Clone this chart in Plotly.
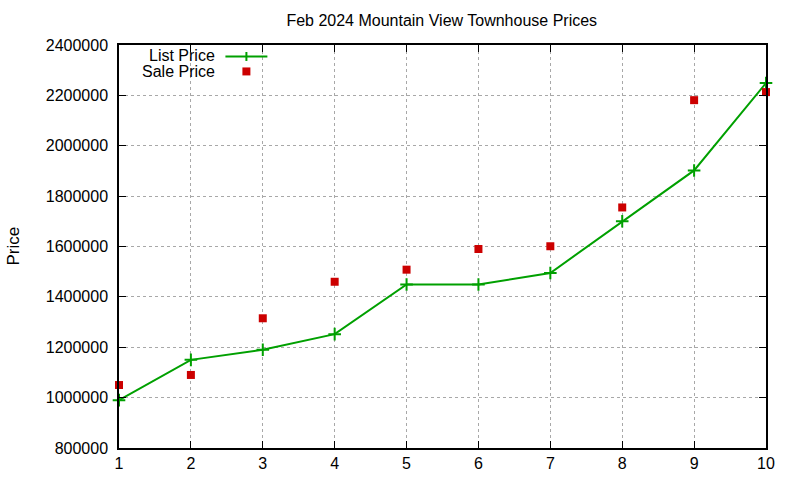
import plotly.graph_objects as go

houses = [1, 2, 3, 4, 5, 6, 7, 8, 9, 10]
list_price = [990000, 1150000, 1190000, 1252000, 1449000, 1449000, 1495000, 1700000, 1902000, 2249000]
sale_price = [1050000, 1090000, 1315000, 1460000, 1508000, 1590000, 1601000, 1755000, 2181000, 2213000]
y_ticks = [800000, 1000000, 1200000, 1400000, 1600000, 1800000, 2000000, 2200000, 2400000]

GREEN = "#00a000"
RED = "#cc0000"
FONT = "Liberation Sans, Arial, sans-serif"

W, H = 800, 480
L, R, T, B = 118.5, 766, 44.5, 448.5

def px(x):
    return (x - L) / (R - L)

def py(y):
    return (B - y) / (B - T)

fig = go.Figure()
fig.add_trace(go.Scatter(
    x=houses, y=list_price, mode="lines+markers", name="List Price",
    line=dict(color=GREEN, width=2),
    marker=dict(symbol="cross-thin-open", size=9, line=dict(color=GREEN, width=2)),
    cliponaxis=False, showlegend=False,
))
fig.add_trace(go.Scatter(
    x=houses, y=sale_price, mode="markers", name="Sale Price",
    marker=dict(symbol="square", size=8, color=RED),
    cliponaxis=False, showlegend=False,
))

# manual gnuplot-style legend
shapes = []
annotations = []
shapes.append(dict(type="line", xref="paper", yref="paper",
                   x0=px(225), x1=px(267), y0=py(56), y1=py(56),
                   line=dict(color=GREEN, width=2)))
shapes.append(dict(type="line", xref="paper", yref="paper",
                   x0=px(246), x1=px(246), y0=py(51.5), y1=py(60.5),
                   line=dict(color=GREEN, width=2)))
shapes.append(dict(type="rect", xref="paper", yref="paper",
                   x0=px(242), x1=px(250), y0=py(67), y1=py(75),
                   fillcolor=RED, line=dict(width=0)))
annotations.append(dict(xref="paper", yref="paper", x=px(217), y=py(55.5),
                        text="List Price", showarrow=False, xanchor="right", yanchor="middle",
                        font=dict(family=FONT, size=16, color="black")))
annotations.append(dict(xref="paper", yref="paper", x=px(217), y=py(71.5),
                        text="Sale Price", showarrow=False, xanchor="right", yanchor="middle",
                        font=dict(family=FONT, size=16, color="black")))
annotations.append(dict(xref="paper", yref="paper", x=px(12), y=py(246),
                        text="Price", showarrow=False, textangle=-90,
                        xanchor="center", yanchor="middle",
                        font=dict(family=FONT, size=17, color="black")))

axis_common = dict(
    showline=True, linecolor="black", linewidth=1.5, mirror="allticks",
    ticks="inside", ticklen=7, tickcolor="black", tickwidth=1,
    showgrid=True, gridcolor="#a8a8a8", griddash="dot", gridwidth=1,
    zeroline=False, tickfont=dict(family=FONT, size=16, color="black"),
)

fig.update_layout(
    width=W, height=H,
    margin=dict(l=L, r=W - R, t=T, b=H - B, autoexpand=False),
    paper_bgcolor="white", plot_bgcolor="white",
    title=dict(text="Feb 2024 Mountain View Townhouse Prices", x=px(441.5), xref="paper",
               y=1 - 20 / H, yanchor="middle", xanchor="center",
               font=dict(family=FONT, size=16, color="black")),
    xaxis=dict(range=[1, 10], tickvals=houses, ticktext=[str(h) for h in houses],
               ticklabelstandoff=0, **axis_common),
    yaxis=dict(range=[800000, 2400000], tickvals=y_ticks,
               ticktext=[str(v) for v in y_ticks], ticklabelstandoff=6, **axis_common),
    shapes=shapes, annotations=annotations,
)

fig.write_html("out.html", config={"displayModeBar": False},
               post_script="document.body.style.margin='0';document.body.style.overflow='hidden';")
